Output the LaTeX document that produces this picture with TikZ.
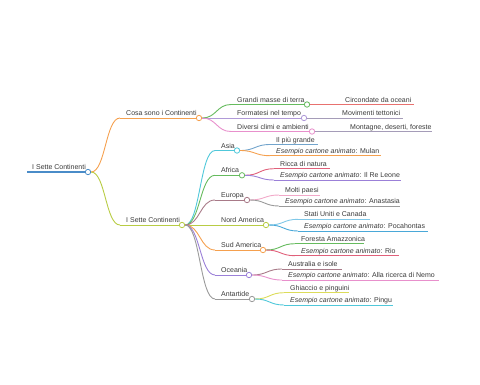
\documentclass[tikz,border=0pt]{standalone}
\usepackage{fontspec}
\setmainfont{Liberation Sans}
\usetikzlibrary{calc}
\definecolor{cblue}{HTML}{4A8CC8}
\definecolor{corange}{HTML}{F5A04E}
\definecolor{cyg}{HTML}{B8CC44}
\definecolor{cgreen}{HTML}{66BB5E}
\definecolor{cred}{HTML}{E8716F}
\definecolor{clav}{HTML}{B09AD8}
\definecolor{cgraypurp}{HTML}{A59CB8}
\definecolor{cpink}{HTML}{E890CC}
\definecolor{ccyan}{HTML}{50C8DA}
\definecolor{csteel}{HTML}{72A4CC}
\definecolor{ccrimson}{HTML}{E0607A}
\definecolor{cpurple}{HTML}{9B80D8}
\definecolor{cmauve}{HTML}{A87A88}
\definecolor{clpink}{HTML}{F2A8C8}
\definecolor{cgray}{HTML}{9A9A9A}
\definecolor{clblue}{HTML}{80C8E8}
\definecolor{cbright}{HTML}{4AA8D8}
\definecolor{cyellow}{HTML}{DCDC5A}
\definecolor{ctext}{HTML}{3A3A3A}
\newcommand\mmconn[3]{\draw[ln,#1] let \p1=(#2.east), \p2=(#3) in (\p1) .. controls ({(\x1+\x2)/2},\y1) and ({(\x1+\x2)/2},\y2) .. (\p2);}
\newcommand\mmnode[7]{%
  \coordinate (#1-s) at ({#4-6},#5);
  \node[lbl] (#1-t) at (#4,{#5-2.5}) {#7};
  \node[dot,draw=#3] (#1) at (#6,#5) {};
  \mmconn{#3}{#2}{#1-s}
  \draw[ln,#3] (#1-s) -- (#1);
}
\newcommand\mmleaf[7]{%
  \coordinate (#1-s) at ({#4-6},#5);
  \coordinate (#1-e) at (#6,#5);
  \node[lbl] (#1-t) at (#4,{#5-2.5}) {#7};
  \mmconn{#3}{#2}{#1-s}
  \draw[ln,#3] (#1-s) -- (#1-e);
}
\newcommand\ex[1]{\textit{Esempio cartone animato}: #1}
\begin{document}
\begin{tikzpicture}[x=1pt,y=-1pt,
  lbl/.style={anchor=base west,inner sep=0,text=ctext,font=\fontsize{7}{8}\selectfont},
  dot/.style={circle,fill=white,line width=0.8pt,minimum size=5.4pt,inner sep=0},
  ln/.style={line width=0.9pt}]
\useasboundingbox (0,0) rectangle (480,384);
% root
\coordinate (root-s) at (27,172);
\node[lbl] (root-t) at (32,169.5) {I Sette Continenti};
\node[dot,draw=cblue] (root) at (88,172) {};
\draw[cblue,line width=1.3pt] (root-s) -- (root);
% level 1
\mmnode{c1}{root}{corange}{126}{118}{199}{Cosa sono i Continenti}
\mmnode{c2}{root}{cyg}{126}{225}{182}{I Sette Continenti}
% Cosa sono
\mmnode{g1}{c1}{cgreen}{237}{104.5}{307}{Grandi masse di terra}
\mmleaf{g1a}{g1}{cred}{345}{104.5}{414}{Circondate da oceani}
\mmnode{g2}{c1}{clav}{237}{118}{304}{Formatesi nel tempo}
\mmleaf{g2a}{g2}{cgraypurp}{342}{118}{403}{Movimenti tettonici}
\mmnode{g3}{c1}{cpink}{237}{131.5}{312}{Diversi climi e ambienti}
\mmleaf{g3a}{g3}{cgraypurp}{350}{131.5}{432}{Montagne, deserti, foreste}
% continents
\mmnode{asia}{c2}{ccyan}{221}{150.5}{237}{Asia}
\mmleaf{asia1}{asia}{csteel}{276}{144.5}{318}{Il più grande}
\mmleaf{asia2}{asia}{corange}{276}{155.7}{381}{\ex{Mulan}}
\mmnode{afr}{c2}{cgreen}{221}{175.3}{242}{Africa}
\mmleaf{afr1}{afr}{ccrimson}{280}{168.7}{330}{Ricca di natura}
\mmleaf{afr2}{afr}{cpurple}{280}{180}{401}{\ex{Il Re Leone}}
\mmnode{eur}{c2}{cmauve}{221}{200}{247}{Europa}
\mmleaf{eur1}{eur}{clpink}{285}{195}{320}{Molti paesi}
\mmleaf{eur2}{eur}{cgray}{285}{206}{400}{\ex{Anastasia}}
\mmnode{nam}{c2}{cyg}{221}{225}{266}{Nord America}
\mmleaf{nam1}{nam}{clblue}{304}{219.3}{370}{Stati Uniti e Canada}
\mmleaf{nam2}{nam}{cbright}{304}{231}{428}{\ex{Pocahontas}}
\mmnode{sam}{c2}{corange}{221}{250}{263}{Sud America}
\mmleaf{sam1}{sam}{cgreen}{301}{243.7}{364}{Foresta Amazzonica}
\mmleaf{sam2}{sam}{ccrimson}{301}{255.7}{399}{\ex{Rio}}
\mmnode{oce}{c2}{cpurple}{221}{275}{249}{Oceania}
\mmleaf{oce1}{oce}{cmauve}{288}{269}{342}{Australia e isole}
\mmleaf{oce2}{oce}{cpink}{288}{280}{439}{\ex{Alla ricerca di Nemo}}
\mmnode{ant}{c2}{cgray}{221}{299}{252}{Antartide}
\mmleaf{ant1}{ant}{cyellow}{290}{292.7}{349}{Ghiaccio e pinguini}
\mmleaf{ant2}{ant}{ccyan}{290}{305}{393}{\ex{Pingu}}
\end{tikzpicture}
\end{document}
